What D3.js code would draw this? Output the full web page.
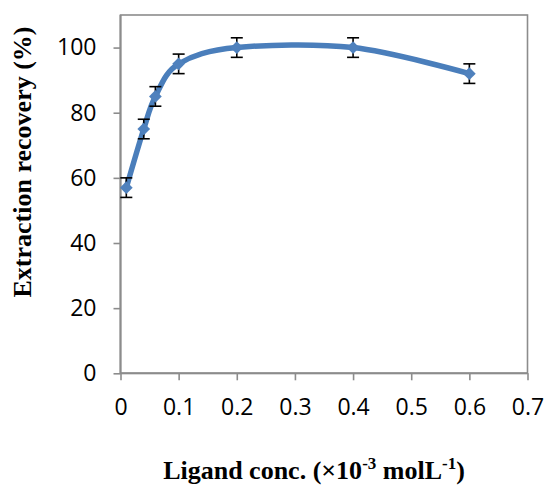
<!DOCTYPE html>
<html><head><meta charset="utf-8">
<script src="https://cdn.jsdelivr.net/npm/d3@7"></script>
<style>body{margin:0;background:#fff}</style>
</head><body>
<script>
const concentrations = [0.01, 0.04, 0.06, 0.1, 0.2, 0.4, 0.6];
const recovery = [57, 75, 85, 95, 100, 100, 92];
const errors = [3, 3, 3, 3, 3, 3, 3];
const xTicks = [0, 0.1, 0.2, 0.3, 0.4, 0.5, 0.6, 0.7];
const yTicks = [0, 20, 40, 60, 80, 100];

const W = 548, H = 485;
const m = {left: 120.5, right: 527.5, top: 15, bottom: 373.3};
const svg = d3.select("body").append("svg").attr("width", W).attr("height", H);

const x = d3.scaleLinear().domain([0, 0.7]).range([m.left, m.right]);
const y = d3.scaleLinear().domain([0, 110]).range([m.bottom, m.top]);

const gray = "#8c8c8c";
svg.append("rect").attr("x", m.left).attr("y", m.top)
  .attr("width", m.right - m.left).attr("height", m.bottom - m.top)
  .attr("fill", "none").attr("stroke", gray).attr("stroke-width", 1.6);

const xAxis = svg.append("g").attr("transform", `translate(0,${m.bottom})`)
  .call(d3.axisBottom(x).tickValues(xTicks).tickSize(7).tickPadding(18).tickFormat(d => d === 0 ? "0" : d3.format(".1f")(d)));
const yAxis = svg.append("g").attr("transform", `translate(${m.left},0)`)
  .call(d3.axisLeft(y).tickValues(yTicks).tickSize(7).tickPadding(17));
[xAxis, yAxis].forEach(g => {
  g.select(".domain").attr("stroke", gray).attr("stroke-width", 2);
  g.selectAll(".tick line").attr("stroke", gray).attr("stroke-width", 1.6);
  g.selectAll("text").attr("fill", "#000").style("font-family", "'Open Sans'").style("font-size", "23px");
});
xAxis.select(".domain").attr("d", `M${m.left},0H${m.right}`);
yAxis.select(".domain").attr("d", `M0,${m.bottom}V${m.top}`);

const data = concentrations.map((c, i) => ({c, v: recovery[i], e: errors[i]}));

const line = d3.line().x(d => x(d.c)).y(d => y(d.v)).curve(d3.curveCardinal.tension(0));
svg.append("path").datum(data).attr("d", line).attr("fill", "none")
  .attr("stroke", "#4a7ebb").attr("stroke-width", 5.5).attr("stroke-linejoin", "round");

const eb = svg.append("g").attr("stroke", "#000").attr("stroke-width", 1.6);
data.forEach(d => {
  const cx = x(d.c), y1 = y(d.v + d.e), y2 = y(d.v - d.e);
  eb.append("line").attr("x1", cx).attr("x2", cx).attr("y1", y1).attr("y2", y2);
  eb.append("line").attr("x1", cx - 6).attr("x2", cx + 6).attr("y1", y1).attr("y2", y1);
  eb.append("line").attr("x1", cx - 6).attr("x2", cx + 6).attr("y1", y2).attr("y2", y2);
});

svg.append("g").selectAll("path").data(data).join("path")
  .attr("transform", d => `translate(${x(d.c)},${y(d.v)}) rotate(45)`)
  .attr("d", "M-4.5,-4.5H4.5V4.5H-4.5Z").attr("fill", "#4f81bd");

const xt = svg.append("text").attr("x", 314).attr("y", 479).attr("text-anchor", "middle")
  .style("font-family", "'Liberation Serif'").style("font-weight", "bold").style("font-size", "26px");
xt.append("tspan").text("Ligand conc. (×10");
xt.append("tspan").text("-3").attr("dy", -10).style("font-size", "17px");
xt.append("tspan").text(" molL").attr("dy", 10);
xt.append("tspan").text("-1").attr("dy", -10).style("font-size", "17px");
xt.append("tspan").text(")").attr("dy", 10);

svg.append("text").attr("transform", "translate(31,162) rotate(-90)").attr("text-anchor", "middle")
  .style("font-family", "'Liberation Serif'").style("font-weight", "bold").style("font-size", "26px")
  .text("Extraction recovery (%)");
</script>
</body></html>
